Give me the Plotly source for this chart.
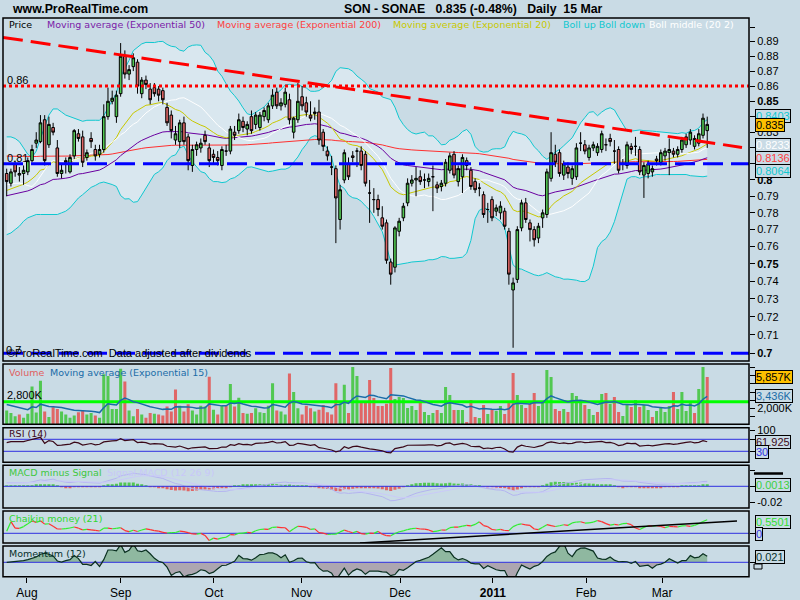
import math
import plotly.graph_objects as go

# ---------------- data ----------------
opens = [0.804,0.798,0.810,0.803,0.804,0.805,0.812,0.823,0.824,0.838,
         0.822,0.833,0.820,0.804,0.812,0.805,0.815,0.829,0.827,0.814,
         0.826,0.819,0.816,0.819,0.840,0.850,0.840,0.855,0.880,0.868,
         0.873,0.876,0.855,0.864,0.858,0.859,0.858,0.857,0.846,0.841,
         0.825,0.824,0.836,0.827,0.809,0.819,0.820,0.828,0.820,0.816,
         0.814,0.809,0.818,0.818,0.830,0.831,0.837,0.832,0.840,0.835,
         0.833,0.840,0.838,0.847,0.856,0.847,0.848,0.851,0.830,0.838,
         0.853,0.849,0.841,0.842,0.843,0.830,0.818,0.808,0.807,0.776,
         0.800,0.810,0.815,0.818,0.818,0.816,0.792,0.788,0.788,0.777,
         0.774,0.751,0.748,0.769,0.777,0.786,0.798,0.800,0.802,0.800,
         0.799,0.802,0.797,0.796,0.798,0.806,0.816,0.799,0.802,0.812,
         0.806,0.799,0.795,0.791,0.782,0.788,0.781,0.780,0.781,0.769,
         0.735,0.741,0.771,0.786,0.774,0.770,0.765,0.777,0.779,0.801,
         0.816,0.817,0.803,0.808,0.801,0.802,0.823,0.822,0.814,0.820,
         0.817,0.819,0.822,0.826,0.818,0.819,0.810,0.809,0.821,0.821,
         0.819,0.803,0.804,0.805,0.813,0.811,0.815,0.817,0.818,0.816,
         0.819,0.822,0.825,0.821,0.823,0.828,0.831]
highs = [0.807,0.807,0.812,0.808,0.809,0.814,0.822,0.830,0.841,0.841,
         0.840,0.836,0.825,0.810,0.814,0.816,0.832,0.832,0.831,0.819,
         0.830,0.822,0.822,0.848,0.859,0.857,0.857,0.889,0.884,0.874,
         0.882,0.878,0.866,0.867,0.862,0.862,0.860,0.859,0.849,0.844,
         0.834,0.838,0.840,0.829,0.822,0.824,0.826,0.831,0.823,0.819,
         0.818,0.821,0.822,0.834,0.834,0.842,0.840,0.837,0.844,0.843,
         0.843,0.846,0.849,0.858,0.859,0.852,0.859,0.855,0.840,0.862,
         0.860,0.853,0.850,0.846,0.851,0.832,0.821,0.815,0.809,0.797,
         0.819,0.814,0.818,0.820,0.821,0.818,0.800,0.795,0.791,0.784,
         0.776,0.753,0.772,0.777,0.786,0.801,0.803,0.808,0.806,0.804,
         0.804,0.809,0.799,0.800,0.813,0.817,0.818,0.809,0.816,0.814,
         0.808,0.801,0.798,0.793,0.786,0.790,0.785,0.787,0.783,0.771,
         0.742,0.772,0.788,0.789,0.776,0.772,0.774,0.782,0.807,0.830,
         0.822,0.819,0.812,0.811,0.809,0.823,0.830,0.825,0.822,0.824,
         0.823,0.831,0.826,0.829,0.825,0.821,0.813,0.824,0.823,0.827,
         0.821,0.811,0.812,0.809,0.815,0.819,0.820,0.826,0.820,0.821,
         0.827,0.829,0.832,0.828,0.832,0.842,0.840]
lows = [0.790,0.796,0.802,0.799,0.797,0.803,0.811,0.820,0.823,0.809,
        0.820,0.828,0.802,0.801,0.804,0.804,0.813,0.824,0.808,0.812,
        0.820,0.812,0.814,0.817,0.838,0.848,0.836,0.853,0.865,0.864,
        0.870,0.855,0.852,0.858,0.848,0.853,0.850,0.848,0.834,0.826,
        0.822,0.820,0.822,0.806,0.805,0.815,0.817,0.822,0.808,0.810,
        0.809,0.806,0.815,0.816,0.825,0.829,0.830,0.828,0.829,0.832,
        0.831,0.837,0.836,0.845,0.845,0.844,0.846,0.835,0.826,0.836,
        0.844,0.840,0.837,0.838,0.822,0.818,0.812,0.803,0.762,0.770,
        0.798,0.800,0.811,0.808,0.806,0.796,0.774,0.780,0.778,0.770,
        0.750,0.738,0.745,0.766,0.775,0.784,0.796,0.790,0.797,0.795,
        0.796,0.781,0.792,0.793,0.796,0.804,0.801,0.796,0.792,0.806,
        0.794,0.792,0.790,0.777,0.774,0.775,0.778,0.776,0.770,0.738,
        0.703,0.739,0.769,0.774,0.763,0.760,0.762,0.771,0.777,0.799,
        0.808,0.802,0.800,0.801,0.797,0.800,0.818,0.816,0.812,0.818,
        0.815,0.817,0.818,0.821,0.810,0.804,0.806,0.807,0.816,0.815,
        0.803,0.789,0.801,0.802,0.809,0.809,0.812,0.803,0.814,0.814,
        0.817,0.820,0.822,0.819,0.821,0.826,0.820]
closes = [0.799,0.805,0.805,0.804,0.806,0.812,0.819,0.825,0.836,0.812,
          0.835,0.830,0.804,0.806,0.811,0.814,0.831,0.826,0.811,0.817,
          0.824,0.815,0.819,0.840,0.850,0.852,0.854,0.880,0.868,0.871,
          0.879,0.860,0.864,0.861,0.851,0.855,0.854,0.851,0.836,0.831,
          0.829,0.836,0.824,0.812,0.819,0.822,0.823,0.824,0.812,0.814,
          0.812,0.819,0.818,0.832,0.828,0.838,0.833,0.835,0.831,0.841,
          0.841,0.844,0.847,0.854,0.847,0.849,0.856,0.838,0.839,0.850,
          0.847,0.843,0.839,0.843,0.825,0.821,0.815,0.808,0.789,0.794,
          0.817,0.802,0.814,0.818,0.809,0.798,0.792,0.788,0.782,0.772,
          0.752,0.744,0.771,0.775,0.784,0.798,0.800,0.801,0.799,0.800,
          0.801,0.802,0.795,0.798,0.811,0.815,0.803,0.807,0.814,0.809,
          0.796,0.794,0.795,0.779,0.782,0.777,0.783,0.784,0.772,0.744,
          0.739,0.770,0.786,0.776,0.770,0.764,0.772,0.780,0.805,0.817,
          0.811,0.804,0.810,0.804,0.807,0.820,0.823,0.818,0.820,0.822,
          0.821,0.829,0.822,0.824,0.818,0.806,0.810,0.822,0.819,0.821,
          0.805,0.809,0.810,0.807,0.812,0.817,0.818,0.819,0.816,0.819,
          0.825,0.827,0.830,0.826,0.829,0.839,0.835]
volumes_k = [1700,1400,1000,1200,800,1300,4700,1450,5400,1600,
             900,2100,1900,1600,1200,800,1100,1500,1700,1200,
             1400,1100,800,6200,6000,1900,1900,6900,5300,1700,
             1000,1900,1200,800,1400,1300,1200,1100,2200,1600,
             4300,2300,1600,2500,1700,1200,2300,2200,5900,1800,
             1200,2300,2300,5000,2200,3300,1400,1300,1400,2000,
             1500,1400,2300,5100,1700,1600,1200,6300,4000,2000,
             1200,2300,2000,1600,1800,2400,1500,1200,5100,2600,
             4900,1400,7100,6000,2770,2770,5490,3260,2270,2270,
             2560,6980,3140,3390,3260,2020,2270,1780,2770,1530,
             1160,1400,1780,1400,4630,3630,1780,1780,1780,290,
             3020,910,790,2400,1280,1780,1650,2270,1280,2640,
             6360,3630,2400,2020,2520,3880,2270,2890,6730,5870,
             1900,1650,1900,1530,3880,3510,2890,2400,1900,1160,
             1530,3760,3880,2520,3390,1530,1030,2520,2150,3020,
             2150,2400,1780,910,1650,2020,1530,2270,4010,1900,
             4010,1650,2640,1400,4380,7100,5857]

month_labels = ["Aug", "Sep", "Oct", "Nov", "Dec", "<b>2011</b>", "Feb", "Mar"]
month_index = [4.8, 27.0, 49.1, 69.9, 93.2, 115.2, 137.3, 155.3]

price_ticks = [0.70, 0.71, 0.72, 0.73, 0.74, 0.75, 0.76, 0.77, 0.78, 0.79, 0.80,
               0.81, 0.82, 0.83, 0.84, 0.85, 0.86, 0.87, 0.88, 0.89, 0.90]
price_tick_text = ["<b>0.7</b>", "0.71", "0.72", "0.73", "0.74", "<b>0.75</b>", "0.76", "0.77",
                   "0.78", "0.79", "<b>0.8</b>", "0.81", "0.82", "0.83", "0.84", "<b>0.85</b>",
                   "0.86", "0.87", "0.88", "0.89", ""]

# seeds for indicators at the left edge
ema20_start, ema50_start, ema200_start = 0.793, 0.790, 0.815
vol_ema_start = 2560
bb_up_early = [0.827, 0.827, 0.826, 0.824, 0.820, 0.816, 0.814, 0.818, 0.826, 0.834,
               0.841, 0.845, 0.845, 0.843, 0.841, 0.840, 0.839, 0.838, 0.837]
bb_lo_early = [0.767, 0.768, 0.770, 0.772, 0.775, 0.777, 0.778, 0.779, 0.779, 0.779,
               0.779, 0.779, 0.779, 0.780, 0.781, 0.783, 0.786, 0.789, 0.791]
mom_early = [0.000, 0.001, 0.002, 0.004, 0.006, 0.010, 0.016, 0.020, 0.030, 0.034, 0.030, 0.024]
macd_seed_fast, macd_seed_slow, macd_seed_signal = 0.801, 0.796, 0.004
rsi_seed_gain, rsi_seed_loss = 0.0030, 0.0021

trend_start_price, trend_end_price = 0.8929, 0.8203
resistance_level, support_level, floor_level = 0.86, 0.81, 0.70
volume_ref_level = 2800

# ---------------- indicator computations ----------------
n = len(closes)
idx = list(range(n))


def ema(vals, period, seed):
    a = 2.0 / (period + 1)
    out, prev = [], seed
    for v in vals:
        prev = a * v + (1 - a) * prev
        out.append(prev)
    return out


ema20 = ema(closes, 20, ema20_start)
ema50 = ema(closes, 50, ema50_start)
ema200 = ema(closes, 200, ema200_start)
vol_ema = ema(volumes_k, 15, vol_ema_start)

bb_up, bb_lo, bb_mid = [], [], []
for i in range(n):
    if i < 19:
        u, l = bb_up_early[i], bb_lo_early[i]
        m = (u + l) / 2
    else:
        w = closes[i - 19:i + 1]
        m = sum(w) / 20
        sd = math.sqrt(sum((c - m) ** 2 for c in w) / 20)
        u, l = m + 2 * sd, m - 2 * sd
    bb_up.append(u); bb_lo.append(l); bb_mid.append(m)

rsi = []
ag, al = rsi_seed_gain, rsi_seed_loss
for i in range(n):
    if i > 0:
        d = closes[i] - closes[i - 1]
        ag = (ag * 13 + max(d, 0)) / 14
        al = (al * 13 + max(-d, 0)) / 14
    rsi.append(100 - 100 / (1 + ag / al) if al > 0 else 100)

ef = ema(closes, 12, macd_seed_fast)
es = ema(closes, 26, macd_seed_slow)
macd = [a - b for a, b in zip(ef, es)]
signal = ema(macd, 9, macd_seed_signal)
hist = [a - b for a, b in zip(macd, signal)]

mfv = []
for o, h, l, c, v in zip(opens, highs, lows, closes, volumes_k):
    mfm = ((c - l) - (h - c)) / (h - l) if h > l else 0
    mfv.append(mfm * v)
cmf = []
for i in range(n):
    s = max(0, i - 20)
    cmf.append(sum(mfv[s:i + 1]) / sum(volumes_k[s:i + 1]))

mom = [mom_early[i] if i < 12 else closes[i] - closes[i - 12] for i in range(n)]

# ---------------- geometry ----------------
W, H = 800, 600
X0, DX = 6.7, 4.22


def ix(px):
    return (px - X0) / DX


def fy(py):
    return 1 - py / H


BG = "#c9dbe5"
BAND = "#d9e7ef"
GREEN = "#52c852"
RED = "#e06666"

panels = {
    "y": (18, 361), "y2": (364, 424.3), "y3": (427.7, 462.3),
    "y4": (465.3, 508), "y5": (511, 543), "y6": (546, 576.7),
}

fig = go.Figure()

# ---- price panel (indicators underneath) ----
fig.add_trace(go.Scatter(x=idx, y=bb_up, mode="lines", line=dict(color="#10c8d0", width=1),
                         hoverinfo="skip", yaxis="y"))
fig.add_trace(go.Scatter(x=idx, y=bb_lo, mode="lines", line=dict(color="#10c8d0", width=1),
                         fill="tonexty", fillcolor=BAND, hoverinfo="skip", yaxis="y"))
fig.add_trace(go.Scatter(x=idx, y=ema200, mode="lines", line=dict(color="#ff3030", width=1),
                         hoverinfo="skip", yaxis="y"))
fig.add_trace(go.Scatter(x=idx, y=ema50, mode="lines", line=dict(color="#6a00a0", width=1),
                         hoverinfo="skip", yaxis="y"))
fig.add_trace(go.Scatter(x=idx, y=ema20, mode="lines", line=dict(color="#c8c800", width=1),
                         hoverinfo="skip", yaxis="y"))
fig.add_trace(go.Scatter(x=idx, y=bb_mid, mode="lines", line=dict(color="#ffffff", width=1),
                         hoverinfo="skip", yaxis="y"))
fig.add_trace(go.Candlestick(
    x=idx, open=opens, high=highs, low=lows, close=closes, yaxis="y7", whiskerwidth=0,
    increasing=dict(fillcolor=GREEN, line=dict(color="black", width=1)),
    decreasing=dict(fillcolor=RED, line=dict(color="black", width=1)),
    hoverinfo="skip"))

xl, xr = ix(3), ix(749)
fig.add_trace(go.Scatter(x=[xl, xr], y=[resistance_level] * 2, mode="lines",
                         line=dict(color="#ff0000", width=3, dash="3px,3px"), hoverinfo="skip", yaxis="y8"))
for lvl in (support_level, floor_level):
    fig.add_trace(go.Scatter(x=[xl, xr], y=[lvl] * 2, mode="lines",
                             line=dict(color="#0000ff", width=3, dash="20px,8px"), hoverinfo="skip", yaxis="y8"))
fig.add_trace(go.Scatter(x=[xl, ix(742)], y=[trend_start_price, trend_end_price], mode="lines",
                         line=dict(color="#ff0000", width=3, dash="20px,8px"), hoverinfo="skip", yaxis="y8"))

# ---- volume ----
vcol = [GREEN if i == 0 or closes[i] >= closes[i - 1] else RED for i in range(n)]
fig.add_trace(go.Bar(x=idx, y=volumes_k, marker=dict(color=vcol, line=dict(width=0)), width=0.72,
                     hoverinfo="skip", yaxis="y2"))
fig.add_trace(go.Scatter(x=[xl, xr], y=[volume_ref_level] * 2, mode="lines",
                         line=dict(color="#00ff00", width=3), hoverinfo="skip", yaxis="y2"))
fig.add_trace(go.Scatter(x=idx, y=vol_ema, mode="lines", line=dict(color="#1a6ca8", width=1.5),
                         hoverinfo="skip", yaxis="y2"))

# ---- RSI ----
for lvl in (70, 30):
    fig.add_trace(go.Scatter(x=[xl, xr], y=[lvl] * 2, mode="lines", line=dict(color="#3030e0", width=1),
                             hoverinfo="skip", yaxis="y3"))
fig.add_trace(go.Scatter(x=idx, y=rsi, mode="lines", line=dict(color="#3a0818", width=1.2),
                         hoverinfo="skip", yaxis="y3"))

# ---- MACD ----
fig.add_trace(go.Scatter(x=idx, y=macd, mode="lines", line=dict(color="#b4b4f0", width=1),
                         hoverinfo="skip", yaxis="y4"))
fig.add_trace(go.Scatter(x=idx, y=signal, mode="lines", line=dict(color="#cacaf8", width=1),
                         hoverinfo="skip", yaxis="y4"))
fig.add_trace(go.Bar(x=idx, y=hist, marker=dict(color=[GREEN if h >= 0 else RED for h in hist],
                                                line=dict(width=0)), width=0.72,
                     hoverinfo="skip", yaxis="y4"))
fig.add_trace(go.Scatter(x=[xl, xr], y=[0, 0], mode="lines", line=dict(color="#3030e0", width=1),
                         hoverinfo="skip", yaxis="y4"))

# ---- Chaikin ----
fig.add_trace(go.Scatter(x=[xl, xr], y=[0, 0], mode="lines", line=dict(color="#3030e0", width=1),
                         hoverinfo="skip", yaxis="y5"))
gx, gy, rx, ry = [], [], [], []
for i in range(1, n):
    if cmf[i] >= cmf[i - 1]:
        gx += [i - 1, i, None]; gy += [cmf[i - 1], cmf[i], None]
    else:
        rx += [i - 1, i, None]; ry += [cmf[i - 1], cmf[i], None]
fig.add_trace(go.Scatter(x=gx, y=gy, mode="lines", line=dict(color="#30ee30", width=1.2),
                         hoverinfo="skip", yaxis="y5"))
fig.add_trace(go.Scatter(x=rx, y=ry, mode="lines", line=dict(color="#ff3030", width=1.2),
                         hoverinfo="skip", yaxis="y5"))
fig.add_trace(go.Scatter(x=[ix(360), ix(737)], y=[-0.266, 0.34], mode="lines",
                         line=dict(color="black", width=1.5), hoverinfo="skip", yaxis="y5"))

# ---- Momentum ----
fig.add_trace(go.Scatter(x=idx, y=[max(m, 0) for m in mom], mode="lines", line=dict(width=0),
                         fill="tozeroy", fillcolor="#8fb8a0", hoverinfo="skip", yaxis="y6"))
fig.add_trace(go.Scatter(x=idx, y=[min(m, 0) for m in mom], mode="lines", line=dict(width=0),
                         fill="tozeroy", fillcolor="#ada6b0", hoverinfo="skip", yaxis="y6"))
fig.add_trace(go.Scatter(x=[xl, xr], y=[0, 0], mode="lines", line=dict(color="#3030e0", width=1),
                         hoverinfo="skip", yaxis="y6"))
fig.add_trace(go.Scatter(x=idx, y=mom, mode="lines", line=dict(color="#0a3020", width=1.2),
                         hoverinfo="skip", yaxis="y6"))

# ---------------- layout ----------------
TICKF = dict(family="Liberation Sans, Arial, sans-serif", size=11, color="black")


def yax(key, rng, **kw):
    top, bot = panels[key]
    d = dict(domain=[fy(bot), fy(top)], range=rng, side="right", anchor="x", showgrid=False,
             zeroline=False, showline=False, ticks="outside", ticklen=5, tickcolor="black",
             tickfont=TICKF, fixedrange=True)
    d.update(kw)
    return d


p_top = 0.7 * math.exp((353.3 - 18) / 1298)
p_bot = 0.7 * math.exp((353.3 - 361) / 1298)
log_range = [math.log10(p_bot), math.log10(p_top)]

layout = dict(
    width=W, height=H, margin=dict(l=0, r=0, t=0, b=0, autoexpand=False), autosize=False,
    paper_bgcolor=BG, plot_bgcolor=BG, showlegend=False, boxgap=0.12,
    xaxis=dict(domain=[3 / W, 749 / W], range=[xl, xr], anchor="y6", tickvals=month_index,
               ticktext=month_labels, ticks="outside", ticklen=5, tickcolor="black",
               tickfont=dict(family="Liberation Sans, Arial, sans-serif", size=12, color="black"),
               showgrid=False, zeroline=False, showline=False, rangeslider=dict(visible=False),
               fixedrange=True),
    yaxis=yax("y", log_range, type="log", tickvals=price_ticks, ticktext=price_tick_text),
    yaxis7=dict(overlaying="y", type="log", range=log_range, visible=False, anchor="x",
                showgrid=False, zeroline=False, fixedrange=True),
    yaxis8=dict(overlaying="y", type="log", range=log_range, visible=False, anchor="x",
                showgrid=False, zeroline=False, fixedrange=True),
    yaxis2=yax("y2", [0, 7477], tickvals=[1000, 2000, 3000, 4000, 5000, 6000, 7000],
               ticktext=["", "2,000K", "", "", "", "", ""]),
    yaxis3=yax("y3", [-6.7, 108.7], tickvals=[30, 70, 100], ticktext=["", "", "100"]),
    yaxis4=yax("y4", [-0.02764, 0.02675], tickvals=[-0.02, 0.0, 0.02], ticktext=["-0.02", "", ""]),
    yaxis5=yax("y5", [-0.2665, 0.6126], tickvals=[0], ticktext=[""]),
    yaxis6=yax("y6", [-0.0539, 0.0610], tickvals=[0], ticktext=[""]),
)
fig.update_layout(**layout)

for key, (top, bot) in panels.items():
    fig.add_shape(type="rect", xref="paper", yref="paper", x0=3 / W, x1=749 / W, y0=fy(bot), y1=fy(top),
                  line=dict(color="black", width=1.5), fillcolor="rgba(0,0,0,0)", layer="above")
# small marks at the right edge (partly hidden labels in the reference)
fig.add_shape(type="line", xref="paper", yref="paper", x0=754 / W, x1=783 / W, y0=fy(473.5), y1=fy(473.5),
              line=dict(color="black", width=2.5))
fig.add_shape(type="rect", xref="paper", yref="paper", x0=754 / W, x1=762 / W, y0=fy(569), y1=fy(564),
              line=dict(color="black", width=1), fillcolor=BG)

LEG = "DejaVu Sans, Verdana, sans-serif"
ARIAL = "Liberation Sans, Arial, sans-serif"
ann = []


def txt(px, py, s, color, size=9.5, family=LEG, anchor="left", **kw):
    d = dict(x=px / W, y=fy(py), xref="paper", yref="paper", text=s, showarrow=False,
             xanchor=anchor, yanchor="middle", font=dict(family=family, size=size, color=color))
    d.update(kw)
    ann.append(d)


def box(px, py, s, color, bg=BG, size=11):
    txt(px, py, s, color, size=size, family=ARIAL,
        bgcolor=bg, bordercolor="black", borderwidth=1, borderpad=0)


txt(10, 9, "<b>www.ProRealTime.com</b>", "black", size=12.3, family=ARIAL)
txt(342, 9, "<b>SON - SONAE   0.835 (-0.48%)   Daily  15 Mar</b>", "black", size=12.3, family=ARIAL)

txt(7, 25, "Price", "black")
txt(45, 25, "Moving average (Exponential 50)", "#7a1aa8")
txt(215, 25, "Moving average (Exponential 200)", "#ff4040")
txt(391, 25, "Moving average (Exponential 20)", "#c8c800")
txt(561, 25, "Boll up Boll down", "#10c8d0")
txt(647, 25, "Boll middle (20 2)", "#ffffff")

txt(5, 80, "0.86", "black", size=11, family=ARIAL)
txt(5, 158, "0.81", "black", size=11, family=ARIAL)
txt(4, 350, "0.7", "black", size=11, family=ARIAL)
txt(5, 353, "©ProRealTime.com  Data adjusted after dividends", "black", size=11, family=ARIAL)

txt(7, 372, "Volume", "#e06060")
txt(48, 372, "Moving average (Exponential 15)", "#1a6ca8")
txt(5, 395, "2,800K", "black", size=11, family=ARIAL)
txt(7, 433, "RSI (14)", "#400818")
txt(7, 472, "MACD minus Signal", "#40c840")
txt(105, 472, "Signal MACD (12 26 9)", "#c8c8f8")
txt(7, 518, "Chaikin money (21)", "#30d830")
txt(7, 553, "Momentum (12)", "#06302a")

box(755, 116, "0.8403", "#10c8d0")
box(755, 125, "0.835", "black", bg="#ffc000")
box(755, 145, "0.8233", "#ffffff")
box(755, 158, "0.8136", "#ff4040")
box(755, 171, "0.8064", "#10c8d0")
box(755, 377, "5,857K", "black", bg="#ffc000")
box(755, 396, "3,436K", "#1a6ca8")
box(755, 441.5, "61.925", "#400818")
box(755, 452, "30", "#3030e0")
box(755, 485, "0.0013", "#40d040")
box(755, 522, "0.5501", "#30e030")
box(755, 534, "0", "#3030e0")
box(755, 557, "0.021", "#06302a")

fig.update_layout(annotations=ann)
fig.write_html("out.html", config={"displayModeBar": False},
               post_script="document.body.style.margin='0';document.body.style.overflow='hidden';")
